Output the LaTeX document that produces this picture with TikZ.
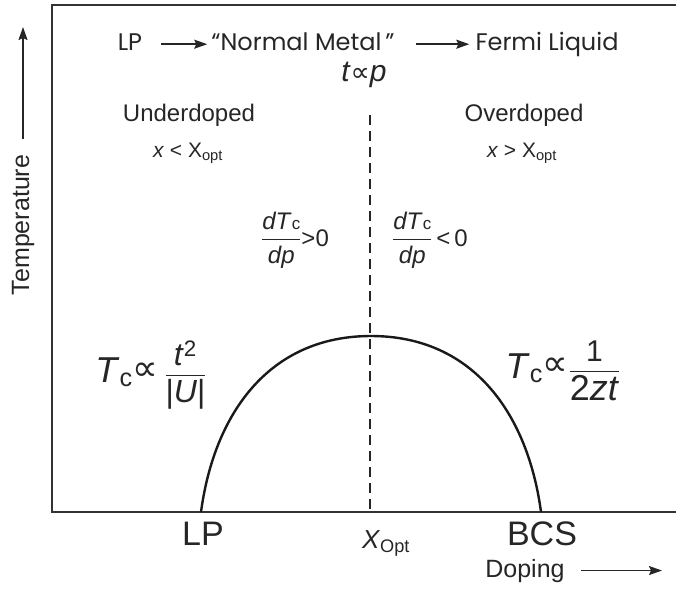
\documentclass[tikz,border=0pt]{standalone}
\usepackage{amsmath}
\usepackage{fontspec}
\setmainfont{Liberation Sans}
\newfontfamily\titlefont{Poppins}
\newfontfamily\symbfont{DejaVu Sans}
\newcommand{\prop}[1]{{\symbfont\fontsize{#1}{#1}\selectfont ∝}}
\usetikzlibrary{arrows.meta}

\begin{document}
\begin{tikzpicture}[x=1pt,y=-1pt,every node/.style={inner sep=0pt,text=black!85},
  ttl/.style={font=\titlefont\fontsize{24}{26}\selectfont,anchor=base,text height=17pt,text depth=4pt},
  lbl/.style={font=\fontsize{24}{26}\selectfont,anchor=base},
  big/.style={font=\fontsize{34}{36}\selectfont,anchor=base},
  arr/.style={-{Stealth[length=13pt,width=9pt,inset=2pt]},line width=1.5pt,black!85},
  frame/.style={line width=1.6pt,black!80},
  optline/.style={line width=1.8pt,black!85,dash pattern=on 10pt off 6pt},
  tccurve/.style={line width=2.4pt,black!90}]
\useasboundingbox (0,0) rectangle (676,592);
\draw[frame] (676,5) -- (52,5) -- (52,512) -- (676,512);
\node[ttl] (lp) at (130,50.7) {LP};
\node[ttl] (nm) at (303,50.7) {“Normal Metal\,”};
\node[ttl] (fl) at (547,50.7) {Fermi Liquid};
\draw[arr,shorten <=19pt,shorten >=4pt] (lp) -- (nm);
\draw[arr,shorten <=21pt,shorten >=6pt] (nm) -- (fl);
\node[anchor=base,font=\fontsize{30}{32}\selectfont] (tap) at (364,81) {\textit{t}\prop{27}\textit{p}};
\node[lbl] (ud) at (189,121) {Underdoped};
\node[lbl] (od) at (524,121) {Overdoped};
\node[lbl,font=\fontsize{21}{24}\selectfont] (xlt) at (188,157) {\textit{x} < X\textsubscript{opt}};
\node[lbl,font=\fontsize{21}{24}\selectfont] (xgt) at (522,157) {\textit{x} > X\textsubscript{opt}};
\node[lbl] (dpos) at (295,246) {$\dfrac{\text{\textit{dT}{\fontsize{17}{17}\selectfont c}}}{\text{\textit{dp}}}$>0};
\node[lbl] (dneg) at (430,246) {$\dfrac{\text{\textit{dT}{\fontsize{17}{17}\selectfont c}}}{\text{\textit{dp}}}$\,<\,0};
\node[lbl,font=\fontsize{36}{38}\selectfont] (tcl) at (151,382) {\textit{T}\textsubscript{c}\raisebox{2pt}{\prop{36}}\,$\dfrac{\text{\fontsize{32}{34}\selectfont\textit{t}\textsuperscript{2}}}{\text{\fontsize{32}{34}\selectfont|\textit{U}|}}$};
\node[lbl,font=\fontsize{36}{38}\selectfont] (tcr) at (563,378) {\textit{T}\textsubscript{c}\raisebox{3pt}{\prop{36}}$\dfrac{\text{\fontsize{30}{30}\selectfont 1}}{\text{2\textit{zt}}}$};
\coordinate (dtop) at (370,115);
\coordinate (lpb) at (201,512);
\coordinate (pk) at (371,336);
\coordinate (bcsb) at (541,512);
\draw[optline] (dtop) -- (dtop |- lpb);
\draw[tccurve] (lpb) .. controls (214,415) and (268,336) .. (pk) .. controls (474,336) and (528,415) .. (bcsb);
\node[big] (lpx) at (203,545) {LP};
\node[big] (bcs) at (542,545) {BCS};
\node[lbl,font=\fontsize{26}{28}\selectfont] (xopt) at (386,548) {\textit{X}\textsubscript{Opt}};
\node[lbl,font=\fontsize{25}{27}\selectfont] (dop) at (525,577) {Doping};
\coordinate (dend) at (662,0);
\draw[arr,shorten <=16pt] (dop.east) -- (dop.east -| dend);
\node[lbl,anchor=center,font=\fontsize{25}{27}\selectfont,rotate=90] (temp) at (23,225) {Temperature};
\coordinate (tend) at (0,27);
\draw[arr,shorten <=16pt] (temp.east) -- (temp.east |- tend);
\end{tikzpicture}
\end{document}
